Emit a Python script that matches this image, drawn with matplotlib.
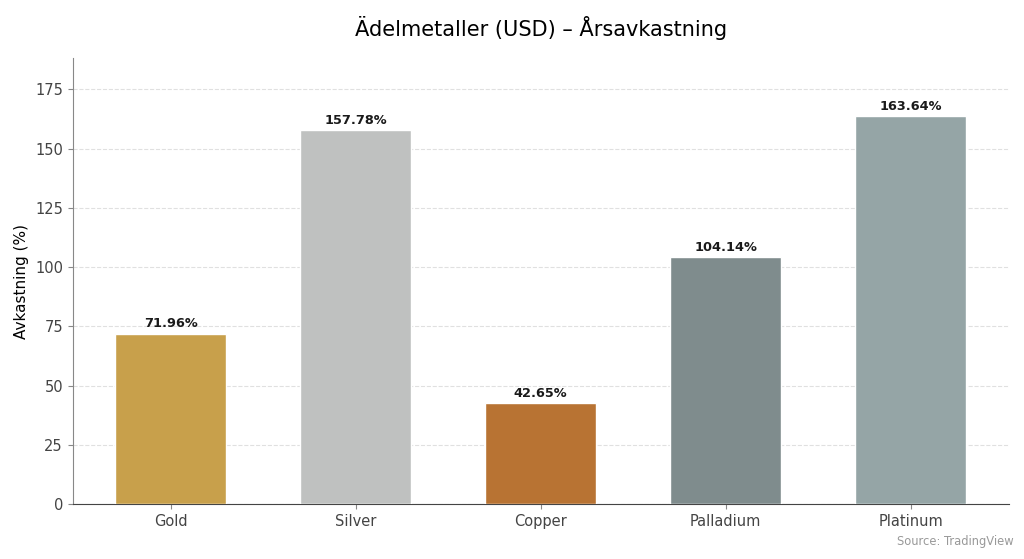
import matplotlib
matplotlib.use("Agg")
import matplotlib.pyplot as plt

metals = ["Gold", "Silver", "Copper", "Palladium", "Platinum"]
returns = [71.96, 157.78, 42.65, 104.14, 163.64]
colors = ["#C8A04B", "#BFC1C0", "#B87333", "#7F8C8D", "#95A5A6"]

fig, ax = plt.subplots(figsize=(10.24, 5.59), dpi=100)
bars = ax.bar(metals, returns, width=0.6, color=colors, edgecolor="white", linewidth=1, zorder=3)

for b, v in zip(bars, returns):
    ax.text(b.get_x() + b.get_width() / 2, v + 1.5, f"{v:.2f}%",
            ha="center", va="bottom", fontsize=9.3, fontweight="bold", color="#1a1a1a")

ax.set_ylim(0, max(returns) * 1.15)
ax.set_ylabel("Avkastning (%)", fontsize=11)
ax.set_title("Ädelmetaller (USD) – Årsavkastning", fontsize=15, pad=16)
ax.grid(axis="y", linestyle="--", color="#e0e0e0", linewidth=0.8, zorder=0)
ax.spines["top"].set_visible(False)
ax.spines["right"].set_visible(False)
ax.spines["left"].set_color("#888888")
ax.spines["bottom"].set_color("#444444")
ax.tick_params(colors="#444444", labelsize=10.5)
ax.tick_params(axis="both", color="#888888")

fig.text(0.99, 0.02, "Source: TradingView", ha="right", va="bottom", fontsize=8.3, color="#999999")
fig.subplots_adjust(left=0.071, right=0.985, top=0.896, bottom=0.098)
fig.savefig("out.png", dpi=100)
